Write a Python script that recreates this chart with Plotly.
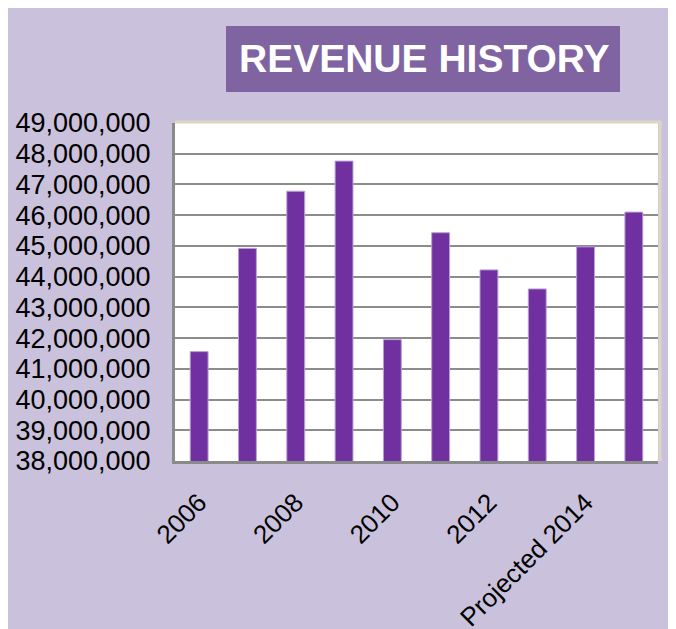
import plotly.graph_objects as go

categories = ["2006", "2007", "2008", "2009", "2010", "2011", "2012", "2013",
              "Projected 2014", "Projected 2015"]
revenue = [41560000, 44920000, 46780000, 47760000, 41950000,
           45430000, 44220000, 43600000, 44970000, 46100000]
y_tick_values = list(range(38000000, 49000001, 1000000))
x_tick_labels = categories[::2]

OFF = 8  # page body margin
W, H = 676, 629
ML, MT = 175 - OFF, 123 - OFF
MR = W - (658 - OFF)
MB = H - (461 - OFF)
PW, PH = W - ML - MR, H - MT - MB

def px_x(px):
    return (px - OFF - ML) / PW

def px_y(py):
    return (H - MB - (py - OFF)) / PH

LAV = "#CAC1DC"
fig = go.Figure()
fig.add_trace(go.Bar(
    x=categories, y=revenue,
    marker=dict(color="#7030A0", line=dict(color="#B8A2D2", width=1)),
))

shapes = [
    # title box
    dict(type="rect", xref="paper", yref="paper", x0=px_x(226), x1=px_x(620), y0=px_y(92), y1=px_y(26),
         fillcolor="#8064A2", line=dict(width=0), layer="below"),
    # beige top and right plot border
    dict(type="line", xref="paper", yref="paper", x0=0, x1=px_x(661), y0=px_y(122), y1=px_y(122),
         line=dict(color="#DCD6C2", width=3), layer="above"),
    dict(type="line", xref="paper", yref="paper", x0=px_x(660), x1=px_x(660), y0=px_y(121), y1=0,
         line=dict(color="#DCD6C2", width=3), layer="above"),
]

fig.update_layout(
    width=W, height=H,
    margin=dict(l=ML, r=MR, t=MT, b=MB, pad=0),
    paper_bgcolor=LAV, plot_bgcolor="white",
    showlegend=False,
    bargap=0.63,
    shapes=shapes,
    font=dict(family="Liberation Sans, Arial, sans-serif", color="black"),
    annotations=[dict(
        text="<b>REVENUE HISTORY</b>", xref="paper", yref="paper",
        x=px_x(424), y=px_y(59), xanchor="center", yanchor="middle",
        showarrow=False, font=dict(size=39, color="white",
                                   family="Liberation Sans, Arial, sans-serif"),
    )],
)
fig.update_yaxes(
    range=[38000000, 49000000], tickvals=y_tick_values, tickformat=",d",
    showgrid=True, gridcolor="#8C8C8C", gridwidth=2,
    showline=True, linecolor="#8A8A8A", linewidth=3,
    ticks="", ticklabelstandoff=16, tickfont=dict(size=27),
    zeroline=False, automargin=False,
)
fig.update_xaxes(
    type="category", tickvals=x_tick_labels, ticktext=x_tick_labels,
    tickangle=-45, showline=True, linecolor="#8A8A8A", linewidth=3,
    ticks="", ticklabelstandoff=13, tickfont=dict(size=26),
    showgrid=False, automargin=False,
)
fig.write_html("out.html", post_script="document.body.style.overflow='hidden';")
